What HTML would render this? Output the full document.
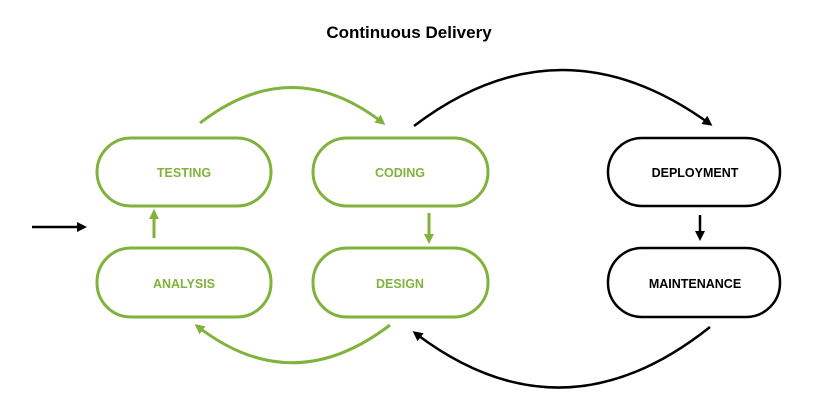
<!DOCTYPE html>
<html><head><style>
body{margin:0;background:#fff;}
svg{display:block;}
text{font-family:"Liberation Sans",Arial,sans-serif;font-weight:bold;}
</style></head><body>
<svg width="821" height="407" viewBox="0 0 821 407" xmlns="http://www.w3.org/2000/svg">
<defs>
<marker id="ga" markerWidth="10" markerHeight="10" refX="7" refY="5" orient="auto" markerUnits="userSpaceOnUse"><path d="M0,0 L10,5 L0,10 z" fill="#80b23c"/></marker>
<marker id="ka" markerWidth="10" markerHeight="10" refX="7" refY="5" orient="auto" markerUnits="userSpaceOnUse"><path d="M0,0 L10,5 L0,10 z" fill="#000"/></marker>
</defs>
<text x="409" y="38" font-size="17" text-anchor="middle" fill="#000">Continuous Delivery</text>
<g fill="none" stroke="#80b23c" stroke-width="3">
<rect x="97" y="138" width="174" height="68" rx="34"/>
<rect x="313" y="138" width="175" height="68" rx="34"/>
<rect x="97" y="248" width="174" height="69" rx="34"/>
<rect x="313" y="248" width="175" height="69" rx="34"/>
<path d="M200,123 Q292,52 383,123" marker-end="url(#ga)"/>
<path d="M390,325 Q292,400 197,326" marker-end="url(#ga)"/>
<path d="M154,238 L154,212" marker-end="url(#ga)"/>
<path d="M429,213 L429,241" marker-end="url(#ga)"/>
</g>
<g fill="none" stroke="#000" stroke-width="2.5">
<rect x="608" y="138" width="172" height="68" rx="34"/>
<rect x="608" y="248" width="172" height="69" rx="34"/>
<path d="M414,126 Q560,15 710,124" marker-end="url(#ka)"/>
<path d="M710,327 Q562,445 415,333" marker-end="url(#ka)"/>
<path d="M700,215 L700,238" marker-end="url(#ka)"/>
<path d="M32,227 L84,227" marker-end="url(#ka)"/>
</g>
<g font-size="12.5" text-anchor="middle" fill="#80b23c">
<text x="184" y="177">TESTING</text>
<text x="400" y="177">CODING</text>
<text x="184" y="288">ANALYSIS</text>
<text x="400" y="288">DESIGN</text>
</g>
<g font-size="12.5" text-anchor="middle" fill="#000">
<text x="695" y="177">DEPLOYMENT</text>
<text x="695" y="288">MAINTENANCE</text>
</g>
</svg>
</body></html>
